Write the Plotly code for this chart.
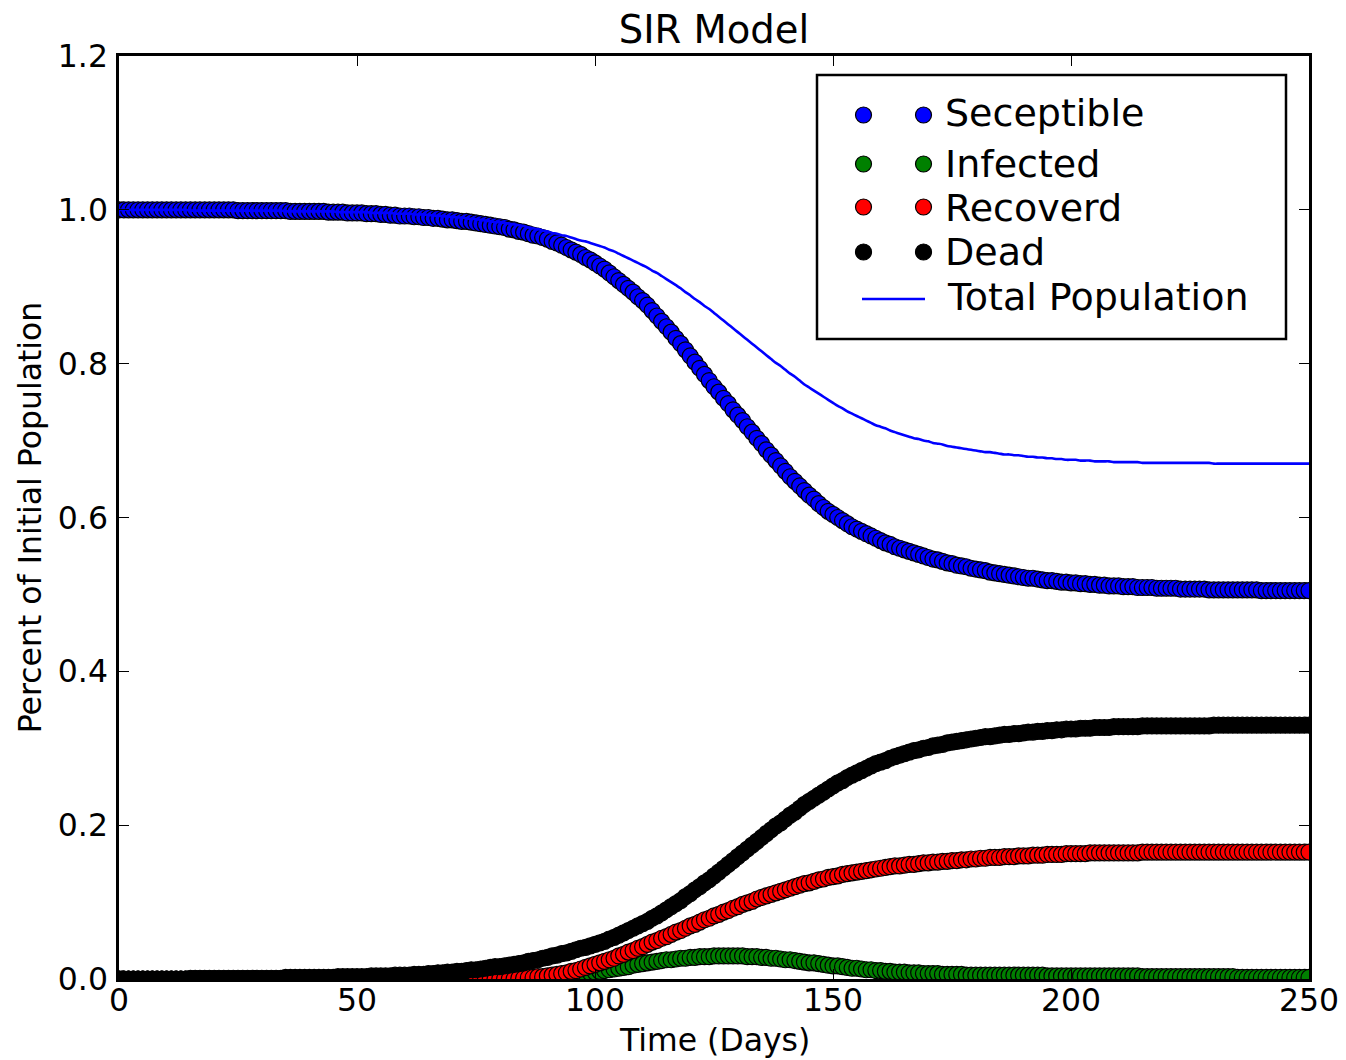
import plotly.graph_objects as go

days = list(range(0, 251))

susceptible = [
    1.000, 1.000, 1.000, 1.000, 1.000, 1.000, 1.000, 1.000, 1.000, 1.000,
    1.000, 1.000, 1.000, 1.000, 1.000, 1.000, 1.000, 1.000, 1.000, 1.000,
    1.000, 1.000, 1.000, 1.000, 1.000, 0.999, 0.999, 0.999, 0.999, 0.999,
    0.999, 0.999, 0.999, 0.999, 0.999, 0.999, 0.998, 0.998, 0.998, 0.998,
    0.998, 0.998, 0.998, 0.998, 0.997, 0.997, 0.997, 0.997, 0.996, 0.996,
    0.996, 0.996, 0.995, 0.995, 0.995, 0.994, 0.994, 0.993, 0.993, 0.992,
    0.992, 0.992, 0.991, 0.991, 0.990, 0.990, 0.989, 0.989, 0.988, 0.987,
    0.987, 0.986, 0.985, 0.985, 0.984, 0.983, 0.982, 0.981, 0.980, 0.979,
    0.978, 0.977, 0.975, 0.974, 0.972, 0.971, 0.969, 0.967, 0.966, 0.964,
    0.962, 0.959, 0.957, 0.954, 0.951, 0.948, 0.945, 0.942, 0.938, 0.935,
    0.931, 0.927, 0.923, 0.918, 0.913, 0.908, 0.903, 0.898, 0.893, 0.887,
    0.882, 0.876, 0.869, 0.862, 0.855, 0.848, 0.841, 0.833, 0.826, 0.818,
    0.810, 0.802, 0.794, 0.786, 0.778, 0.770, 0.763, 0.755, 0.748, 0.740,
    0.733, 0.726, 0.718, 0.711, 0.703, 0.696, 0.688, 0.681, 0.674, 0.667,
    0.660, 0.653, 0.647, 0.641, 0.635, 0.629, 0.624, 0.618, 0.613, 0.608,
    0.604, 0.600, 0.596, 0.592, 0.588, 0.585, 0.582, 0.579, 0.576, 0.573,
    0.570, 0.567, 0.565, 0.562, 0.560, 0.558, 0.556, 0.554, 0.552, 0.550,
    0.548, 0.546, 0.545, 0.543, 0.541, 0.540, 0.538, 0.537, 0.536, 0.534,
    0.533, 0.532, 0.531, 0.529, 0.528, 0.527, 0.526, 0.525, 0.524, 0.523,
    0.522, 0.521, 0.521, 0.520, 0.519, 0.518, 0.518, 0.517, 0.516, 0.516,
    0.515, 0.515, 0.514, 0.514, 0.513, 0.513, 0.512, 0.512, 0.511, 0.511,
    0.511, 0.510, 0.510, 0.510, 0.509, 0.509, 0.509, 0.509, 0.508, 0.508,
    0.508, 0.508, 0.508, 0.507, 0.507, 0.507, 0.507, 0.507, 0.507, 0.506,
    0.506, 0.506, 0.506, 0.506, 0.506, 0.506, 0.506, 0.506, 0.506, 0.506,
    0.505, 0.505, 0.505, 0.505, 0.505, 0.505, 0.505, 0.505, 0.505, 0.505,
    0.505,
]

infected = [
    0.000, 0.000, 0.000, 0.000, 0.000, 0.000, 0.000, 0.000, 0.000, 0.000,
    0.000, 0.000, 0.000, 0.000, 0.000, 0.000, 0.000, 0.000, 0.000, 0.000,
    0.000, 0.000, 0.000, 0.000, 0.000, 0.000, 0.000, 0.000, 0.000, 0.000,
    0.000, 0.000, 0.000, 0.000, 0.000, 0.000, 0.000, 0.000, 0.000, 0.000,
    0.000, 0.000, 0.000, 0.000, 0.000, 0.000, 0.000, 0.000, 0.000, 0.000,
    0.000, 0.000, 0.000, 0.000, 0.000, 0.000, 0.000, 0.000, 0.000, 0.000,
    0.000, 0.000, 0.000, 0.000, 0.000, 0.000, 0.000, 0.000, 0.000, 0.000,
    0.000, 0.000, 0.000, 0.000, 0.000, 0.000, 0.000, 0.000, 0.000, 0.000,
    0.000, 0.000, 0.000, 0.001, 0.001, 0.001, 0.001, 0.001, 0.002, 0.002,
    0.002, 0.003, 0.003, 0.004, 0.004, 0.005, 0.006, 0.006, 0.007, 0.008,
    0.009, 0.010, 0.011, 0.012, 0.013, 0.014, 0.015, 0.016, 0.018, 0.019,
    0.020, 0.021, 0.022, 0.023, 0.024, 0.025, 0.025, 0.026, 0.027, 0.027,
    0.028, 0.028, 0.029, 0.029, 0.029, 0.030, 0.030, 0.030, 0.030, 0.030,
    0.030, 0.030, 0.029, 0.029, 0.029, 0.028, 0.028, 0.027, 0.027, 0.026,
    0.025, 0.025, 0.024, 0.023, 0.022, 0.021, 0.021, 0.020, 0.019, 0.018,
    0.017, 0.017, 0.016, 0.015, 0.014, 0.014, 0.013, 0.012, 0.012, 0.011,
    0.011, 0.010, 0.010, 0.009, 0.009, 0.009, 0.008, 0.008, 0.008, 0.007,
    0.007, 0.007, 0.007, 0.006, 0.006, 0.006, 0.006, 0.006, 0.005, 0.005,
    0.005, 0.005, 0.005, 0.005, 0.005, 0.005, 0.005, 0.005, 0.005, 0.005,
    0.005, 0.005, 0.005, 0.005, 0.005, 0.004, 0.004, 0.004, 0.004, 0.004,
    0.004, 0.004, 0.004, 0.004, 0.004, 0.004, 0.004, 0.004, 0.004, 0.004,
    0.004, 0.004, 0.004, 0.004, 0.004, 0.003, 0.003, 0.003, 0.003, 0.003,
    0.003, 0.003, 0.003, 0.003, 0.003, 0.003, 0.003, 0.003, 0.003, 0.003,
    0.003, 0.003, 0.003, 0.003, 0.003, 0.002, 0.002, 0.002, 0.002, 0.002,
    0.002, 0.002, 0.002, 0.002, 0.002, 0.002, 0.002, 0.002, 0.002, 0.002,
    0.002,
]

recovered = [
    0.000, 0.000, 0.000, 0.000, 0.000, 0.000, 0.000, 0.000, 0.000, 0.000,
    0.000, 0.000, 0.000, 0.000, 0.000, 0.000, 0.000, 0.000, 0.000, 0.000,
    0.000, 0.000, 0.000, 0.000, 0.000, 0.000, 0.000, 0.000, 0.000, 0.000,
    0.000, 0.000, 0.000, 0.000, 0.000, 0.000, 0.000, 0.000, 0.000, 0.000,
    0.000, 0.000, 0.000, 0.000, 0.000, 0.000, 0.000, 0.000, 0.000, 0.000,
    0.000, 0.000, 0.000, 0.000, 0.000, 0.000, 0.000, 0.000, 0.000, 0.000,
    0.000, 0.000, 0.000, 0.000, 0.000, 0.000, 0.000, 0.000, 0.000, 0.000,
    0.000, 0.000, 0.000, 0.000, 0.000, 0.000, 0.000, 0.000, 0.000, 0.000,
    0.000, 0.000, 0.000, 0.000, 0.001, 0.001, 0.002, 0.002, 0.003, 0.003,
    0.004, 0.005, 0.006, 0.007, 0.008, 0.010, 0.011, 0.013, 0.015, 0.017,
    0.019, 0.021, 0.023, 0.025, 0.027, 0.030, 0.032, 0.035, 0.037, 0.040,
    0.042, 0.045, 0.048, 0.050, 0.053, 0.055, 0.058, 0.061, 0.063, 0.066,
    0.069, 0.071, 0.074, 0.077, 0.079, 0.082, 0.084, 0.087, 0.089, 0.092,
    0.094, 0.097, 0.099, 0.101, 0.104, 0.106, 0.108, 0.110, 0.112, 0.114,
    0.116, 0.118, 0.120, 0.122, 0.124, 0.125, 0.127, 0.129, 0.130, 0.132,
    0.133, 0.134, 0.136, 0.137, 0.138, 0.139, 0.140, 0.141, 0.142, 0.143,
    0.144, 0.145, 0.146, 0.147, 0.147, 0.148, 0.149, 0.149, 0.150, 0.151,
    0.151, 0.152, 0.152, 0.153, 0.153, 0.154, 0.154, 0.155, 0.155, 0.156,
    0.156, 0.157, 0.157, 0.158, 0.158, 0.158, 0.159, 0.159, 0.159, 0.160,
    0.160, 0.160, 0.161, 0.161, 0.161, 0.162, 0.162, 0.162, 0.162, 0.163,
    0.163, 0.163, 0.163, 0.163, 0.164, 0.164, 0.164, 0.164, 0.164, 0.164,
    0.164, 0.164, 0.164, 0.164, 0.164, 0.165, 0.165, 0.165, 0.165, 0.165,
    0.165, 0.165, 0.165, 0.165, 0.165, 0.165, 0.165, 0.165, 0.165, 0.165,
    0.165, 0.165, 0.165, 0.165, 0.165, 0.165, 0.165, 0.165, 0.165, 0.165,
    0.165, 0.165, 0.165, 0.165, 0.165, 0.165, 0.165, 0.165, 0.165, 0.165,
    0.165,
]

dead = [
    0.000, 0.000, 0.000, 0.000, 0.000, 0.000, 0.000, 0.000, 0.000, 0.000,
    0.000, 0.000, 0.000, 0.000, 0.000, 0.001, 0.001, 0.001, 0.001, 0.001,
    0.001, 0.001, 0.001, 0.001, 0.001, 0.001, 0.001, 0.001, 0.001, 0.001,
    0.001, 0.001, 0.001, 0.001, 0.001, 0.002, 0.002, 0.002, 0.002, 0.002,
    0.002, 0.002, 0.002, 0.002, 0.002, 0.002, 0.003, 0.003, 0.003, 0.003,
    0.003, 0.003, 0.003, 0.004, 0.004, 0.004, 0.004, 0.004, 0.005, 0.005,
    0.005, 0.005, 0.006, 0.006, 0.006, 0.007, 0.007, 0.008, 0.008, 0.009,
    0.009, 0.010, 0.010, 0.011, 0.012, 0.012, 0.013, 0.014, 0.015, 0.016,
    0.016, 0.017, 0.018, 0.019, 0.020, 0.021, 0.023, 0.024, 0.025, 0.027,
    0.028, 0.030, 0.031, 0.033, 0.034, 0.036, 0.038, 0.040, 0.041, 0.043,
    0.045, 0.047, 0.049, 0.052, 0.054, 0.057, 0.060, 0.063, 0.066, 0.069,
    0.072, 0.075, 0.079, 0.082, 0.086, 0.090, 0.094, 0.098, 0.102, 0.107,
    0.111, 0.116, 0.120, 0.125, 0.129, 0.134, 0.139, 0.144, 0.149, 0.154,
    0.159, 0.164, 0.169, 0.174, 0.179, 0.184, 0.189, 0.194, 0.199, 0.203,
    0.208, 0.213, 0.217, 0.222, 0.227, 0.231, 0.235, 0.239, 0.243, 0.247,
    0.251, 0.255, 0.258, 0.262, 0.265, 0.268, 0.271, 0.274, 0.277, 0.280,
    0.282, 0.284, 0.287, 0.289, 0.291, 0.293, 0.295, 0.297, 0.298, 0.300,
    0.301, 0.303, 0.304, 0.305, 0.307, 0.308, 0.309, 0.310, 0.311, 0.312,
    0.313, 0.314, 0.315, 0.315, 0.316, 0.317, 0.318, 0.318, 0.319, 0.319,
    0.320, 0.321, 0.321, 0.322, 0.322, 0.323, 0.323, 0.324, 0.324, 0.325,
    0.325, 0.325, 0.326, 0.326, 0.326, 0.327, 0.327, 0.327, 0.327, 0.328,
    0.328, 0.328, 0.328, 0.328, 0.328, 0.329, 0.329, 0.329, 0.329, 0.329,
    0.329, 0.329, 0.329, 0.329, 0.329, 0.329, 0.329, 0.329, 0.329, 0.329,
    0.330, 0.330, 0.330, 0.330, 0.330, 0.330, 0.330, 0.330, 0.330, 0.330,
    0.330, 0.330, 0.330, 0.330, 0.330, 0.330, 0.330, 0.330, 0.330, 0.330,
    0.330,
]

total_population = [
    1.000, 1.000, 1.000, 1.000, 1.000, 1.000, 1.000, 1.000, 1.000, 1.000,
    1.000, 1.000, 1.000, 1.000, 1.000, 0.999, 0.999, 0.999, 0.999, 0.999,
    0.999, 0.999, 0.999, 0.999, 0.999, 0.999, 0.999, 0.999, 0.999, 0.999,
    0.999, 0.999, 0.999, 0.999, 0.999, 0.998, 0.998, 0.998, 0.998, 0.998,
    0.998, 0.998, 0.998, 0.998, 0.998, 0.998, 0.997, 0.997, 0.997, 0.997,
    0.997, 0.997, 0.997, 0.996, 0.996, 0.996, 0.996, 0.996, 0.995, 0.995,
    0.995, 0.995, 0.994, 0.994, 0.994, 0.993, 0.993, 0.992, 0.992, 0.991,
    0.991, 0.990, 0.990, 0.989, 0.988, 0.988, 0.987, 0.986, 0.985, 0.984,
    0.984, 0.983, 0.982, 0.981, 0.980, 0.979, 0.977, 0.976, 0.975, 0.973,
    0.972, 0.970, 0.969, 0.967, 0.966, 0.964, 0.962, 0.960, 0.959, 0.957,
    0.955, 0.953, 0.951, 0.948, 0.946, 0.943, 0.940, 0.937, 0.934, 0.931,
    0.928, 0.925, 0.921, 0.918, 0.914, 0.910, 0.906, 0.902, 0.898, 0.893,
    0.889, 0.884, 0.880, 0.875, 0.871, 0.866, 0.861, 0.856, 0.851, 0.846,
    0.841, 0.836, 0.831, 0.826, 0.821, 0.816, 0.811, 0.806, 0.801, 0.797,
    0.792, 0.787, 0.783, 0.778, 0.773, 0.769, 0.765, 0.761, 0.757, 0.753,
    0.749, 0.745, 0.742, 0.738, 0.735, 0.732, 0.729, 0.726, 0.723, 0.720,
    0.718, 0.716, 0.713, 0.711, 0.709, 0.707, 0.705, 0.703, 0.702, 0.700,
    0.699, 0.697, 0.696, 0.695, 0.693, 0.692, 0.691, 0.690, 0.689, 0.688,
    0.687, 0.686, 0.685, 0.685, 0.684, 0.683, 0.682, 0.682, 0.681, 0.681,
    0.680, 0.679, 0.679, 0.678, 0.678, 0.677, 0.677, 0.676, 0.676, 0.675,
    0.675, 0.675, 0.674, 0.674, 0.674, 0.673, 0.673, 0.673, 0.673, 0.672,
    0.672, 0.672, 0.672, 0.672, 0.672, 0.671, 0.671, 0.671, 0.671, 0.671,
    0.671, 0.671, 0.671, 0.671, 0.671, 0.671, 0.671, 0.671, 0.671, 0.671,
    0.670, 0.670, 0.670, 0.670, 0.670, 0.670, 0.670, 0.670, 0.670, 0.670,
    0.670, 0.670, 0.670, 0.670, 0.670, 0.670, 0.670, 0.670, 0.670, 0.670,
    0.670,
]

series_names = ["Seceptible", "Infected", "Recoverd", "Dead"]
series_colors = ["#0000ff", "#008000", "#ff0000", "#000000"]
total_name = "Total Population"
x_ticks = [0, 50, 100, 150, 200, 250]
y_ticks = [0.0, 0.2, 0.4, 0.6, 0.8, 1.0, 1.2]

FONT = "DejaVu Sans"
W, H = 1346, 1060
L, R, T, B = 119, 37, 56, 81
PW, PH = W - L - R, H - T - B

def px(xp):
    return (xp - L) / PW

def py(yp):
    return (H - B - yp) / PH

fig = go.Figure()
for name, color, vals in zip(series_names, series_colors,
                             [susceptible, infected, recovered, dead]):
    fig.add_trace(go.Scatter(
        x=days, y=vals, mode="markers", name=name, showlegend=False,
        marker=dict(size=16, color=color, line=dict(color="black", width=1.2)),
    ))
fig.add_trace(go.Scatter(
    x=days, y=total_population, mode="lines", name=total_name, showlegend=False,
    line=dict(color="#0000ff", width=2.6, shape="spline", smoothing=0.6),
))

# Legend (drawn as a key box in paper coordinates)
shapes = [dict(type="rect", xref="paper", yref="paper",
               x0=px(817), x1=px(1286), y0=py(339), y1=py(75),
               line=dict(color="black", width=2.5), fillcolor="white", layer="above")]
annotations = []
row_marker_y = [115, 164, 207, 252]
row_text_y = [113, 164, 208, 252]
for name, color, ym, yt in zip(series_names, series_colors, row_marker_y, row_text_y):
    for xm in (863.5, 923.5):
        shapes.append(dict(type="circle", xref="paper", yref="paper",
                           xsizemode="pixel", ysizemode="pixel",
                           xanchor=px(xm), yanchor=py(ym),
                           x0=-8, x1=8, y0=-8, y1=8,
                           fillcolor=color, line=dict(color="black", width=1.2),
                           layer="above"))
    annotations.append(dict(text=name, xref="paper", yref="paper",
                            x=px(943), y=py(yt), xanchor="left", yanchor="middle",
                            showarrow=False, font=dict(family=FONT, size=38, color="black")))
shapes.append(dict(type="line", xref="paper", yref="paper",
                   x0=px(862), x1=px(925), y0=py(299), y1=py(299),
                   line=dict(color="#0000ff", width=2.6), layer="above"))
annotations.append(dict(text=total_name, xref="paper", yref="paper",
                        x=px(945), y=py(297), xanchor="left", yanchor="middle",
                        showarrow=False, font=dict(family=FONT, size=38, color="black")))

# x-axis title
annotations.append(dict(text="Time (Days)", xref="paper", yref="paper",
                        x=0.5, y=py(1040), xanchor="center", yanchor="middle",
                        showarrow=False, font=dict(family=FONT, size=31.5, color="black")))

axis_common = dict(
    showline=True, linecolor="black", linewidth=2.5, mirror="ticks",
    ticks="inside", ticklen=10, tickwidth=1.3, tickcolor="black",
    showgrid=False, zeroline=False, automargin=False,
    tickfont=dict(family=FONT, size=31.5, color="black"),
)

fig.update_layout(
    width=W, height=H,
    margin=dict(l=L, r=R, t=T, b=B, pad=0, autoexpand=False),
    paper_bgcolor="white", plot_bgcolor="white",
    font=dict(family=FONT, color="black"),
    title=dict(text="SIR Model", x=0.5, xref="paper", xanchor="center",
               y=1 - 30 / H, yref="container", yanchor="middle", automargin=False,
               font=dict(family=FONT, size=38.5, color="black")),
    xaxis=dict(range=[0, 250], tickvals=x_ticks, ticktext=[str(v) for v in x_ticks],
               ticklabelstandoff=-9, **axis_common),
    yaxis=dict(range=[0, 1.2], tickvals=y_ticks, tickformat=".1f",
               title=dict(text="Percent of Initial Population", font=dict(family=FONT, size=31.5),
                          standoff=7),
               ticklabelstandoff=2, **axis_common),
    shapes=shapes, annotations=annotations,
)

fig.write_html("out.html", config={"displayModeBar": False},
               post_script="document.body.style.margin='0';")
